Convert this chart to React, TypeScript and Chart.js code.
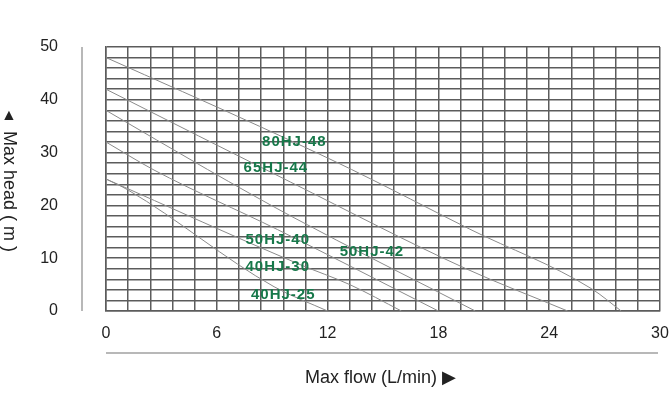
import React, { useEffect, useRef } from 'react';
import { Chart, registerables } from 'chart.js';

Chart.register(...registerables);

// ---- data ----
const seriesNames = ['80HJ-48', '65HJ-44', '50HJ-42', '50HJ-40', '40HJ-30', '40HJ-25'];

const flow80HJ48 = [0, 8.3, 13.3, 19.7, 26.3, 27.9];
const head80HJ48 = [48, 35, 26.8, 15.5, 4.2, 0];
const flow65HJ44 = [0, 10, 19.5, 25];
const head65HJ44 = [42, 24.4, 8, 0];
const flow50HJ42 = [0, 5.5, 10, 20];
const head50HJ42 = [38, 26.8, 18, 0];
const flow50HJ40 = [0, 2.6, 9.3, 18];
const head50HJ40 = [32, 26.7, 15.4, 0];
const flow40HJ30 = [0, 10.5, 13.2, 16];
const head40HJ30 = [25, 8.8, 5, 0];
const flow40HJ25 = [0, 1.2, 9.1, 12];
const head40HJ25 = [25, 22.9, 4.6, 0];

// label anchors (flow, head) for each curve name
const labelFlow = [10.2, 9.2, 14.4, 9.3, 9.3, 9.6];
const labelHead = [32, 27.2, 11.2, 13.4, 8.3, 3.0];

const xMin = 0;
const xMax = 30;
const yMin = 0;
const yMax = 50;
const xGridStep = 1.2;
const yGridStep = 2;
const xLabelEvery = 5; // label every 6 L/min
const yLabelEvery = 5; // label every 10 m

const xTitle = 'Max flow (L/min) \u25B6';
const yTitle = 'Max head ( m )';

const flows = [flow80HJ48, flow65HJ44, flow50HJ42, flow50HJ40, flow40HJ30, flow40HJ25];
const heads = [head80HJ48, head65HJ44, head50HJ42, head50HJ40, head40HJ30, head40HJ25];

const GRID = '#5c5c5c';
const CURVE = '#8a8a8a';
const GREEN = '#17784a';
const FONT = '"Liberation Sans", Arial, "DejaVu Sans", "Noto Sans CJK SC", sans-serif';

const decorPlugin = {
  id: 'decor',
  afterDraw(chart: any) {
    const ctx = chart.ctx as CanvasRenderingContext2D;
    const area = chart.chartArea;
    const xs = chart.scales.x;
    const ys = chart.scales.y;
    ctx.save();
    // side rules
    ctx.strokeStyle = '#a0a0a0';
    ctx.lineWidth = 1.5;
    ctx.beginPath();
    ctx.moveTo(area.left - 24, area.top);
    ctx.lineTo(area.left - 24, area.bottom);
    ctx.stroke();
    ctx.beginPath();
    ctx.moveTo(area.left, area.bottom + 42);
    ctx.lineTo(area.right - 2, area.bottom + 42);
    ctx.stroke();

    // curve labels
    ctx.fillStyle = GREEN;
    ctx.font = 'bold 15px ' + FONT;
    (ctx as any).letterSpacing = '1px';
    ctx.textAlign = 'center';
    ctx.textBaseline = 'middle';
    seriesNames.forEach((n, i) => {
      ctx.fillText(n, xs.getPixelForValue(labelFlow[i]), ys.getPixelForValue(labelHead[i]));
    });
    (ctx as any).letterSpacing = '0px';

    // x title
    ctx.fillStyle = '#222';
    ctx.font = '18px ' + FONT;
    ctx.textAlign = 'left';
    ctx.textBaseline = 'middle';
    ctx.fillText(xTitle, area.left + 199, area.bottom + 67);

    // y title: upright triangle, then text rotated clockwise
    ctx.font = '16px ' + FONT;
    ctx.textAlign = 'center';
    ctx.fillText('\u25B2', 9, area.top + 69);
    ctx.font = '18px ' + FONT;
    ctx.save();
    ctx.translate(9, area.top + 84);
    ctx.rotate(Math.PI / 2);
    ctx.textAlign = 'left';
    ctx.fillText(yTitle, 0, 0);
    ctx.restore();
    ctx.restore();
  },
};

export default function App() {
  const ref = useRef<HTMLCanvasElement | null>(null);
  useEffect(() => {
    document.body.style.margin = '0';
    const canvas = ref.current!;
    const datasets = seriesNames.map((name, i) => ({
      label: name,
      data: flows[i].map((f, j) => ({ x: f, y: heads[i][j] })),
      borderColor: CURVE,
      borderWidth: 1,
      pointRadius: 0,
      fill: false,
      tension: 0.4,
      cubicInterpolationMode: 'monotone' as const,
    }));
    const chart = new Chart(canvas, {
      type: 'line',
      data: { datasets },
      options: {
        animation: false,
        responsive: false,
        layout: { padding: { top: 47, right: 12, left: 0, bottom: 0 } },
        plugins: { legend: { display: false }, tooltip: { enabled: false } },
        scales: {
          x: {
            type: 'linear',
            min: xMin,
            max: xMax,
            afterBuildTicks: (s: any) => {
              const n = Math.round((xMax - xMin) / xGridStep);
              s.ticks = Array.from({ length: n + 1 }, (_, i) => ({ value: xMin + i * xGridStep }));
            },
            afterFit: (s: any) => {
              s.height = 92;
              s.paddingLeft = 0;
              s.paddingRight = 0;
            },
            ticks: {
              autoSkip: false,
              maxRotation: 0,
              padding: 13,
              color: '#222',
              font: { family: FONT, size: 16 },
              callback: (v: any, i: number) => (i % xLabelEvery === 0 ? String(Math.round(Number(v))) : ''),
            },
            grid: { color: GRID, lineWidth: 1.5, drawTicks: false },
            border: { color: GRID, width: 1.5 },
          },
          y: {
            type: 'linear',
            min: yMin,
            max: yMax,
            afterBuildTicks: (s: any) => {
              const n = Math.round((yMax - yMin) / yGridStep);
              s.ticks = Array.from({ length: n + 1 }, (_, i) => ({ value: yMin + i * yGridStep }));
            },
            afterFit: (s: any) => {
              s.width = 106;
              s.paddingTop = 0;
              s.paddingBottom = 0;
            },
            ticks: {
              autoSkip: false,
              padding: 48,
              color: '#222',
              font: { family: FONT, size: 16 },
              callback: (v: any, i: number) => (i % yLabelEvery === 0 ? String(Math.round(Number(v))) : ''),
            },
            grid: { color: GRID, lineWidth: 1.5, drawTicks: false },
            border: { color: GRID, width: 1.5 },
          },
        },
      },
      plugins: [decorPlugin],
    });
    return () => chart.destroy();
  }, []);
  return <canvas ref={ref} width={672} height={403} style={{ display: 'block' }} />;
}
